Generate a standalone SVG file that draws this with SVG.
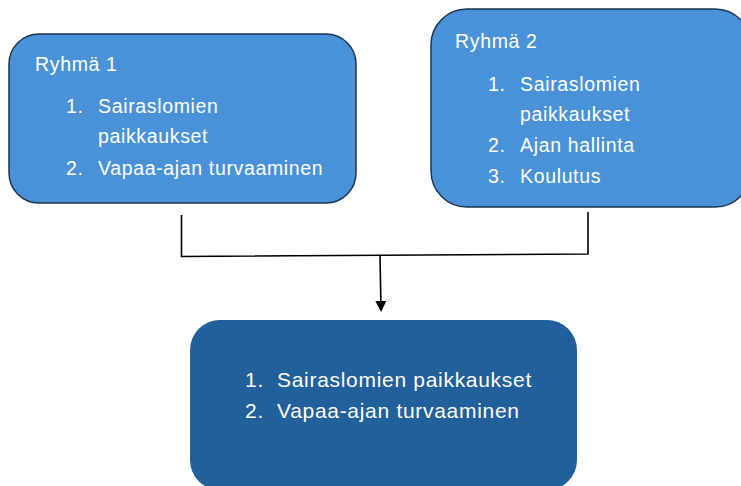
<svg xmlns="http://www.w3.org/2000/svg" width="741" height="486" viewBox="0 0 741 486">
<defs>
<style>
.top{fill:#4A92D8;stroke:#1C3550;stroke-width:1.5}
.bot{fill:#22609B}
text{font-family:"Liberation Sans",Arial,sans-serif;fill:#ffffff;font-size:19.5px;letter-spacing:0.65px}
.big{font-size:21px;letter-spacing:0.7px}
.con{stroke:#000;stroke-width:1.6;fill:none}
</style>
<marker id="arr" markerWidth="11" markerHeight="11" refX="9" refY="5.5" orient="auto" markerUnits="userSpaceOnUse">
<path d="M0,0 L11,5.5 L0,11 Z" fill="#000"/>
</marker>
</defs>
<rect width="741" height="486" fill="#ffffff"/>
<g id="ryhma1">
<rect class="top" x="9" y="34" width="347" height="169" rx="30"/>
<text x="35" y="71">Ryhmä 1</text>
<text x="66" y="113">1.</text><text x="98" y="113">Sairaslomien</text>
<text x="98" y="143">paikkaukset</text>
<text x="66" y="175">2.</text><text x="98" y="175">Vapaa-ajan turvaaminen</text>
</g>
<g id="ryhma2">
<rect class="top" x="431" y="9" width="320" height="198" rx="36"/>
<text x="455" y="48">Ryhmä 2</text>
<text x="488" y="91">1.</text><text x="520" y="91">Sairaslomien</text>
<text x="520" y="121">paikkaukset</text>
<text x="488" y="152">2.</text><text x="520" y="152">Ajan hallinta</text>
<text x="488" y="183">3.</text><text x="520" y="183">Koulutus</text>
</g>
<g id="tulos">
<rect class="bot" x="190" y="320" width="387" height="170" rx="30"/>
<text class="big" x="245" y="387">1.</text><text class="big" x="277" y="387">Sairaslomien paikkaukset</text>
<text class="big" x="245" y="418">2.</text><text class="big" x="277" y="418">Vapaa-ajan turvaaminen</text>
</g>
<g id="connectors">
<path class="con" d="M181.5,215 L181.5,256.5 L588,254 L588,212"/>
<path class="con" d="M380,255.5 L381,310" marker-end="url(#arr)"/>
</g>
</svg>
